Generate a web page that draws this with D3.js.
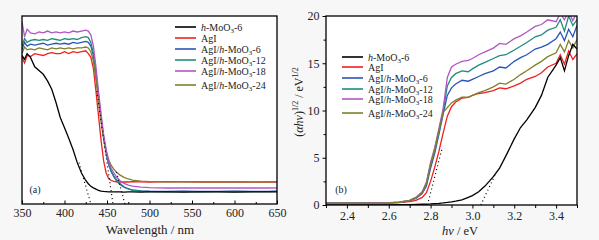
<!DOCTYPE html>
<html>
<head>
<meta charset="utf-8">
<script src="https://cdn.jsdelivr.net/npm/d3@7"></script>
<style>
  body { margin: 0; background: #f7f7f7; }
  svg text { font-family: "Liberation Serif", "Times New Roman", serif; fill: #222; }
  .axis path, .axis line { stroke: #000; }
</style>
</head>
<body>
<div id="chart"></div>
<script>
// series names and colours
const seriesNames = ["h-MoO3-6", "AgI", "AgI/h-MoO3-6", "AgI/h-MoO3-12", "AgI/h-MoO3-18", "AgI/h-MoO3-24"];
const seriesColors = ["#000000", "#f02020", "#2a55b8", "#1f8c7c", "#b455c4", "#80802c"];

// (a) absorbance vs wavelength
const wavelength = [350,353,356,360,365,370,375,380,385,390,395,400,405,410,415,420,425,428,431,434,437,440,443,446,449,452,455,458,461,465,470,475,480,490,500,520,540,560,580,600,620,640,650];
const absMoO3 = [0.79,0.77,0.80,0.78,0.73,0.71,0.69,0.655,0.61,0.54,0.46,0.405,0.35,0.29,0.22,0.165,0.125,0.108,0.094,0.086,0.079,0.073,0.069,0.067,0.066,0.065,0.064,0.064,0.064,0.064,0.063,0.064,0.064,0.063,0.064,0.064,0.063,0.064,0.064,0.063,0.064,0.064,0.064];
const absAgI = [0.78,0.75,0.79,0.785,0.80,0.795,0.79,0.80,0.805,0.80,0.80,0.81,0.80,0.81,0.805,0.81,0.815,0.80,0.78,0.72,0.60,0.47,0.34,0.23,0.165,0.135,0.125,0.12,0.118,0.117,0.118,0.117,0.119,0.118,0.117,0.119,0.118,0.117,0.118,0.117,0.116,0.117,0.116];
const absMix6 = [0.82,0.86,0.84,0.85,0.845,0.85,0.855,0.845,0.85,0.855,0.85,0.855,0.85,0.86,0.855,0.86,0.865,0.86,0.84,0.79,0.69,0.57,0.45,0.35,0.27,0.21,0.17,0.145,0.125,0.105,0.09,0.08,0.075,0.07,0.068,0.067,0.068,0.067,0.067,0.068,0.067,0.067,0.068];
const absMix12 = [0.84,0.88,0.86,0.87,0.875,0.87,0.875,0.87,0.88,0.875,0.87,0.88,0.875,0.88,0.875,0.885,0.89,0.885,0.86,0.80,0.70,0.58,0.46,0.36,0.275,0.215,0.175,0.15,0.13,0.11,0.092,0.08,0.073,0.068,0.066,0.064,0.067,0.065,0.066,0.067,0.066,0.066,0.067];
const absMix18 = [0.97,0.89,0.93,0.91,0.905,0.915,0.91,0.92,0.91,0.915,0.91,0.915,0.91,0.92,0.915,0.92,0.925,0.92,0.90,0.84,0.73,0.60,0.48,0.37,0.29,0.23,0.19,0.165,0.145,0.125,0.11,0.10,0.095,0.09,0.087,0.085,0.086,0.085,0.085,0.086,0.085,0.085,0.086];
const absMix24 = [0.80,0.835,0.82,0.825,0.82,0.83,0.825,0.82,0.83,0.825,0.83,0.825,0.83,0.825,0.83,0.83,0.835,0.83,0.81,0.76,0.66,0.55,0.44,0.35,0.28,0.235,0.205,0.185,0.17,0.155,0.142,0.133,0.127,0.122,0.119,0.118,0.119,0.118,0.118,0.119,0.118,0.118,0.119];
const xTicksA = [350, 400, 450, 500, 550, 600, 650];
// dotted tangent lines in (a): [x1, y1, x2, y2]
const tangentsA = [[417, 0.22, 431, 0.0], [438, 0.6, 457, 0.0], [461, 0.17, 471, 0.0]];

// (b) Tauc plot
const energy = [2.3,2.4,2.5,2.6,2.65,2.7,2.73,2.76,2.78,2.8,2.82,2.84,2.86,2.88,2.9,2.92,2.95,2.98,3.0,3.03,3.06,3.1,3.13,3.16,3.2,3.23,3.26,3.3,3.33,3.36,3.4,3.42,3.44,3.46,3.48,3.5];
const taucMoO3 = [0,0,0,0.02,0.03,0.05,0.06,0.08,0.1,0.12,0.15,0.18,0.22,0.27,0.33,0.4,0.55,0.8,1.0,1.4,2.0,3.0,3.9,5.2,7.0,8.2,9.0,10.3,11.6,13.5,14.8,15.6,14.2,15.8,17.0,16.5];
const taucAgI = [0.2,0.2,0.2,0.22,0.26,0.35,0.5,0.8,1.3,2.5,4.0,5.7,7.6,9.4,10.4,10.9,11.3,11.4,11.6,11.8,11.9,12.1,12.4,12.3,12.6,12.9,13.3,13.6,14.0,14.6,15.0,15.9,14.9,16.3,15.4,16.0];
const taucMix6 = [0.2,0.2,0.2,0.22,0.28,0.45,0.7,1.2,2.0,3.9,5.5,7.5,9.6,11.6,12.4,12.8,13.2,13.1,13.3,13.6,13.9,14.2,14.6,14.5,15.2,15.6,15.9,16.5,16.7,17.0,17.6,18.3,17.4,18.6,17.8,19.0];
const taucMix12 = [0.2,0.2,0.2,0.23,0.29,0.47,0.75,1.3,2.2,4.2,5.8,7.8,9.9,12.6,13.5,13.9,14.2,14.1,14.4,14.8,15.1,15.5,15.8,15.9,16.4,16.8,17.2,17.8,18.0,18.5,18.8,19.6,18.4,20.0,19.0,19.6];
const taucMix18 = [0.2,0.2,0.2,0.24,0.3,0.5,0.8,1.4,2.4,4.5,6.1,8.1,10.2,13.5,14.6,14.9,15.2,15.3,15.5,15.9,16.2,16.6,17.1,17.0,17.6,17.9,18.3,18.9,19.1,19.6,19.4,20.3,19.6,20.5,19.5,20.4];
const taucMix24 = [0.2,0.2,0.2,0.23,0.29,0.48,0.78,1.35,2.3,4.3,5.9,7.9,9.8,10.3,10.8,11.1,11.4,11.4,11.6,11.9,12.1,12.5,12.9,12.8,13.3,13.8,14.2,14.8,15.2,15.7,16.1,17.0,16.2,17.4,16.6,17.5];
const xTicksB = [2.4, 2.6, 2.8, 3.0, 3.2, 3.4];
const yTicksB = [0, 5, 10, 15, 20];
const tangentsB = [[2.785, 0, 2.855, 6.0], [3.04, 0, 3.115, 3.5]];

const seriesA = [absMoO3, absAgI, absMix6, absMix12, absMix18, absMix24];
const seriesB = [taucMoO3, taucAgI, taucMix6, taucMix12, taucMix18, taucMix24];

const width = 599, height = 240;
const svg = d3.select("#chart").append("svg")
  .attr("width", width).attr("height", height);

// legend label with italic h and subscript 3
function legendLabel(sel, name) {
  const parts = name.split("h-MoO3");
  if (parts.length === 1) { sel.text(name); return; }
  sel.append("tspan").text(parts[0]);
  sel.append("tspan").attr("font-style", "italic").text("h");
  sel.append("tspan").text("-MoO");
  sel.append("tspan").attr("font-size", "7px").attr("dy", 2).text("3");
  sel.append("tspan").attr("dy", -2).text(parts[1]);
}

function drawLegend(g, x0, ys) {
  seriesNames.forEach((name, i) => {
    g.append("line")
      .attr("x1", x0).attr("x2", x0 + 21)
      .attr("y1", ys[i]).attr("y2", ys[i])
      .attr("stroke", seriesColors[i]).attr("stroke-width", 1.6);
    g.append("text")
      .attr("x", x0 + 26).attr("y", ys[i] + 3.5)
      .attr("font-size", "10px")
      .call(legendLabel, name);
  });
}

// ---------- panel (a) ----------
const mA = { left: 22, right: 277, top: 16, bottom: 204 };
const xA = d3.scaleLinear().domain([350, 650]).range([mA.left, mA.right]);
const yA = d3.scaleLinear().domain([0, 1]).range([mA.bottom, mA.top]);

svg.append("rect").attr("x", mA.left).attr("y", mA.top)
  .attr("width", mA.right - mA.left).attr("height", mA.bottom - mA.top)
  .attr("fill", "#fff");

svg.append("clipPath").attr("id", "clipA").append("rect")
  .attr("x", mA.left).attr("y", mA.top)
  .attr("width", mA.right - mA.left).attr("height", mA.bottom - mA.top);

const gA = svg.append("g").attr("clip-path", "url(#clipA)");
const lineA = d3.line().x((d, i) => xA(wavelength[i])).y(d => yA(d));
[1, 2, 3, 5, 4, 0].forEach(i => {
  gA.append("path").datum(seriesA[i])
    .attr("d", lineA).attr("fill", "none")
    .attr("stroke", seriesColors[i]).attr("stroke-width", 1.3);
});
gA.selectAll(".tanA").data(tangentsA).enter().append("line")
  .attr("x1", d => xA(d[0])).attr("y1", d => yA(d[1]))
  .attr("x2", d => xA(d[2])).attr("y2", d => yA(d[3]))
  .attr("stroke", "#000").attr("stroke-width", 1.2)
  .attr("stroke-dasharray", "1,3");

svg.append("g").attr("class", "axis")
  .attr("transform", `translate(0,${mA.bottom})`)
  .call(d3.axisBottom(xA).tickValues(d3.range(375, 650, 50)).tickSize(-2).tickFormat(""))
  .call(g => g.select(".domain").remove());
svg.append("g").attr("class", "axis")
  .attr("transform", `translate(0,${mA.bottom})`)
  .call(d3.axisBottom(xA).tickValues(xTicksA).tickSize(-3.5).tickPadding(4))
  .call(g => g.selectAll("text").attr("font-size", "12px"))
  .call(g => g.select(".domain").remove());

svg.append("rect").attr("x", mA.left).attr("y", mA.top)
  .attr("width", mA.right - mA.left).attr("height", mA.bottom - mA.top)
  .attr("fill", "none").attr("stroke", "#000").attr("stroke-width", 1.3);

svg.append("text").attr("x", 35).attr("y", 193).attr("text-anchor", "middle")
  .attr("font-size", "10px").text("(a)");
svg.append("text").attr("x", 150).attr("y", 234).attr("text-anchor", "middle")
  .attr("font-size", "13px").text("Wavelength / nm");

drawLegend(svg.append("g"), 175, [27, 38, 49, 60, 71, 85]);

// ---------- panel (b) ----------
const mB = { left: 326, right: 577, top: 16, bottom: 205 };
const xB = d3.scaleLinear().domain([2.3, 3.5]).range([mB.left, mB.right]);
const yB = d3.scaleLinear().domain([0, 20]).range([mB.bottom, mB.top]);

svg.append("rect").attr("x", mB.left).attr("y", mB.top)
  .attr("width", mB.right - mB.left).attr("height", mB.bottom - mB.top)
  .attr("fill", "#fff");

svg.append("clipPath").attr("id", "clipB").append("rect")
  .attr("x", mB.left).attr("y", mB.top)
  .attr("width", mB.right - mB.left).attr("height", mB.bottom - mB.top);

const gB = svg.append("g").attr("clip-path", "url(#clipB)");
const lineB = d3.line().x((d, i) => xB(energy[i])).y(d => yB(d));
[1, 2, 3, 4, 5, 0].forEach(i => {
  gB.append("path").datum(seriesB[i])
    .attr("d", lineB).attr("fill", "none")
    .attr("stroke", seriesColors[i]).attr("stroke-width", 1.3);
});
gB.selectAll(".tanB").data(tangentsB).enter().append("line")
  .attr("x1", d => xB(d[0])).attr("y1", d => yB(d[1]))
  .attr("x2", d => xB(d[2])).attr("y2", d => yB(d[3]))
  .attr("stroke", "#000").attr("stroke-width", 1.2)
  .attr("stroke-dasharray", "1,3");

svg.append("g").attr("class", "axis")
  .attr("transform", `translate(0,${mB.bottom})`)
  .call(d3.axisBottom(xB).tickValues(d3.range(2.3, 3.55, 0.2)).tickSize(3).tickFormat(""))
  .call(g => g.select(".domain").remove());
svg.append("g").attr("class", "axis")
  .attr("transform", `translate(0,${mB.bottom})`)
  .call(d3.axisBottom(xB).tickValues(xTicksB).tickSize(3.5).tickPadding(3).tickFormat(d3.format(".1f")))
  .call(g => g.selectAll("text").attr("font-size", "12px"))
  .call(g => g.select(".domain").remove());
svg.append("g").attr("class", "axis")
  .attr("transform", `translate(${mB.left},0)`)
  .call(d3.axisLeft(yB).tickValues(d3.range(2.5, 20, 5)).tickSize(2.5).tickFormat(""))
  .call(g => g.select(".domain").remove());
svg.append("g").attr("class", "axis")
  .attr("transform", `translate(${mB.left},0)`)
  .call(d3.axisLeft(yB).tickValues(yTicksB).tickSize(3.5).tickPadding(3))
  .call(g => g.selectAll("text").attr("font-size", "12px"))
  .call(g => g.select(".domain").remove());

svg.append("rect").attr("x", mB.left).attr("y", mB.top)
  .attr("width", mB.right - mB.left).attr("height", mB.bottom - mB.top)
  .attr("fill", "none").attr("stroke", "#000").attr("stroke-width", 1.3);

svg.append("text").attr("x", 341).attr("y", 193).attr("text-anchor", "middle")
  .attr("font-size", "10px").text("(b)");

const xl = svg.append("text").attr("x", 460).attr("y", 235).attr("text-anchor", "middle")
  .attr("font-size", "12.5px");
xl.append("tspan").attr("font-style", "italic").text("hν");
xl.append("tspan").text(" / eV");

const yl = svg.append("text").attr("transform", "translate(303,102) rotate(-90)")
  .attr("text-anchor", "middle").attr("font-size", "12px");
yl.append("tspan").text("(");
yl.append("tspan").attr("font-style", "italic").text("αhν");
yl.append("tspan").text(")");
yl.append("tspan").attr("font-size", "8px").attr("dy", -5).text("1/2");
yl.append("tspan").attr("dy", 5).text(" / eV");
yl.append("tspan").attr("font-size", "8px").attr("dy", -5).text("1/2");

drawLegend(svg.append("g"), 342, [57, 67, 78, 89, 99, 113]);
</script>
</body>
</html>
